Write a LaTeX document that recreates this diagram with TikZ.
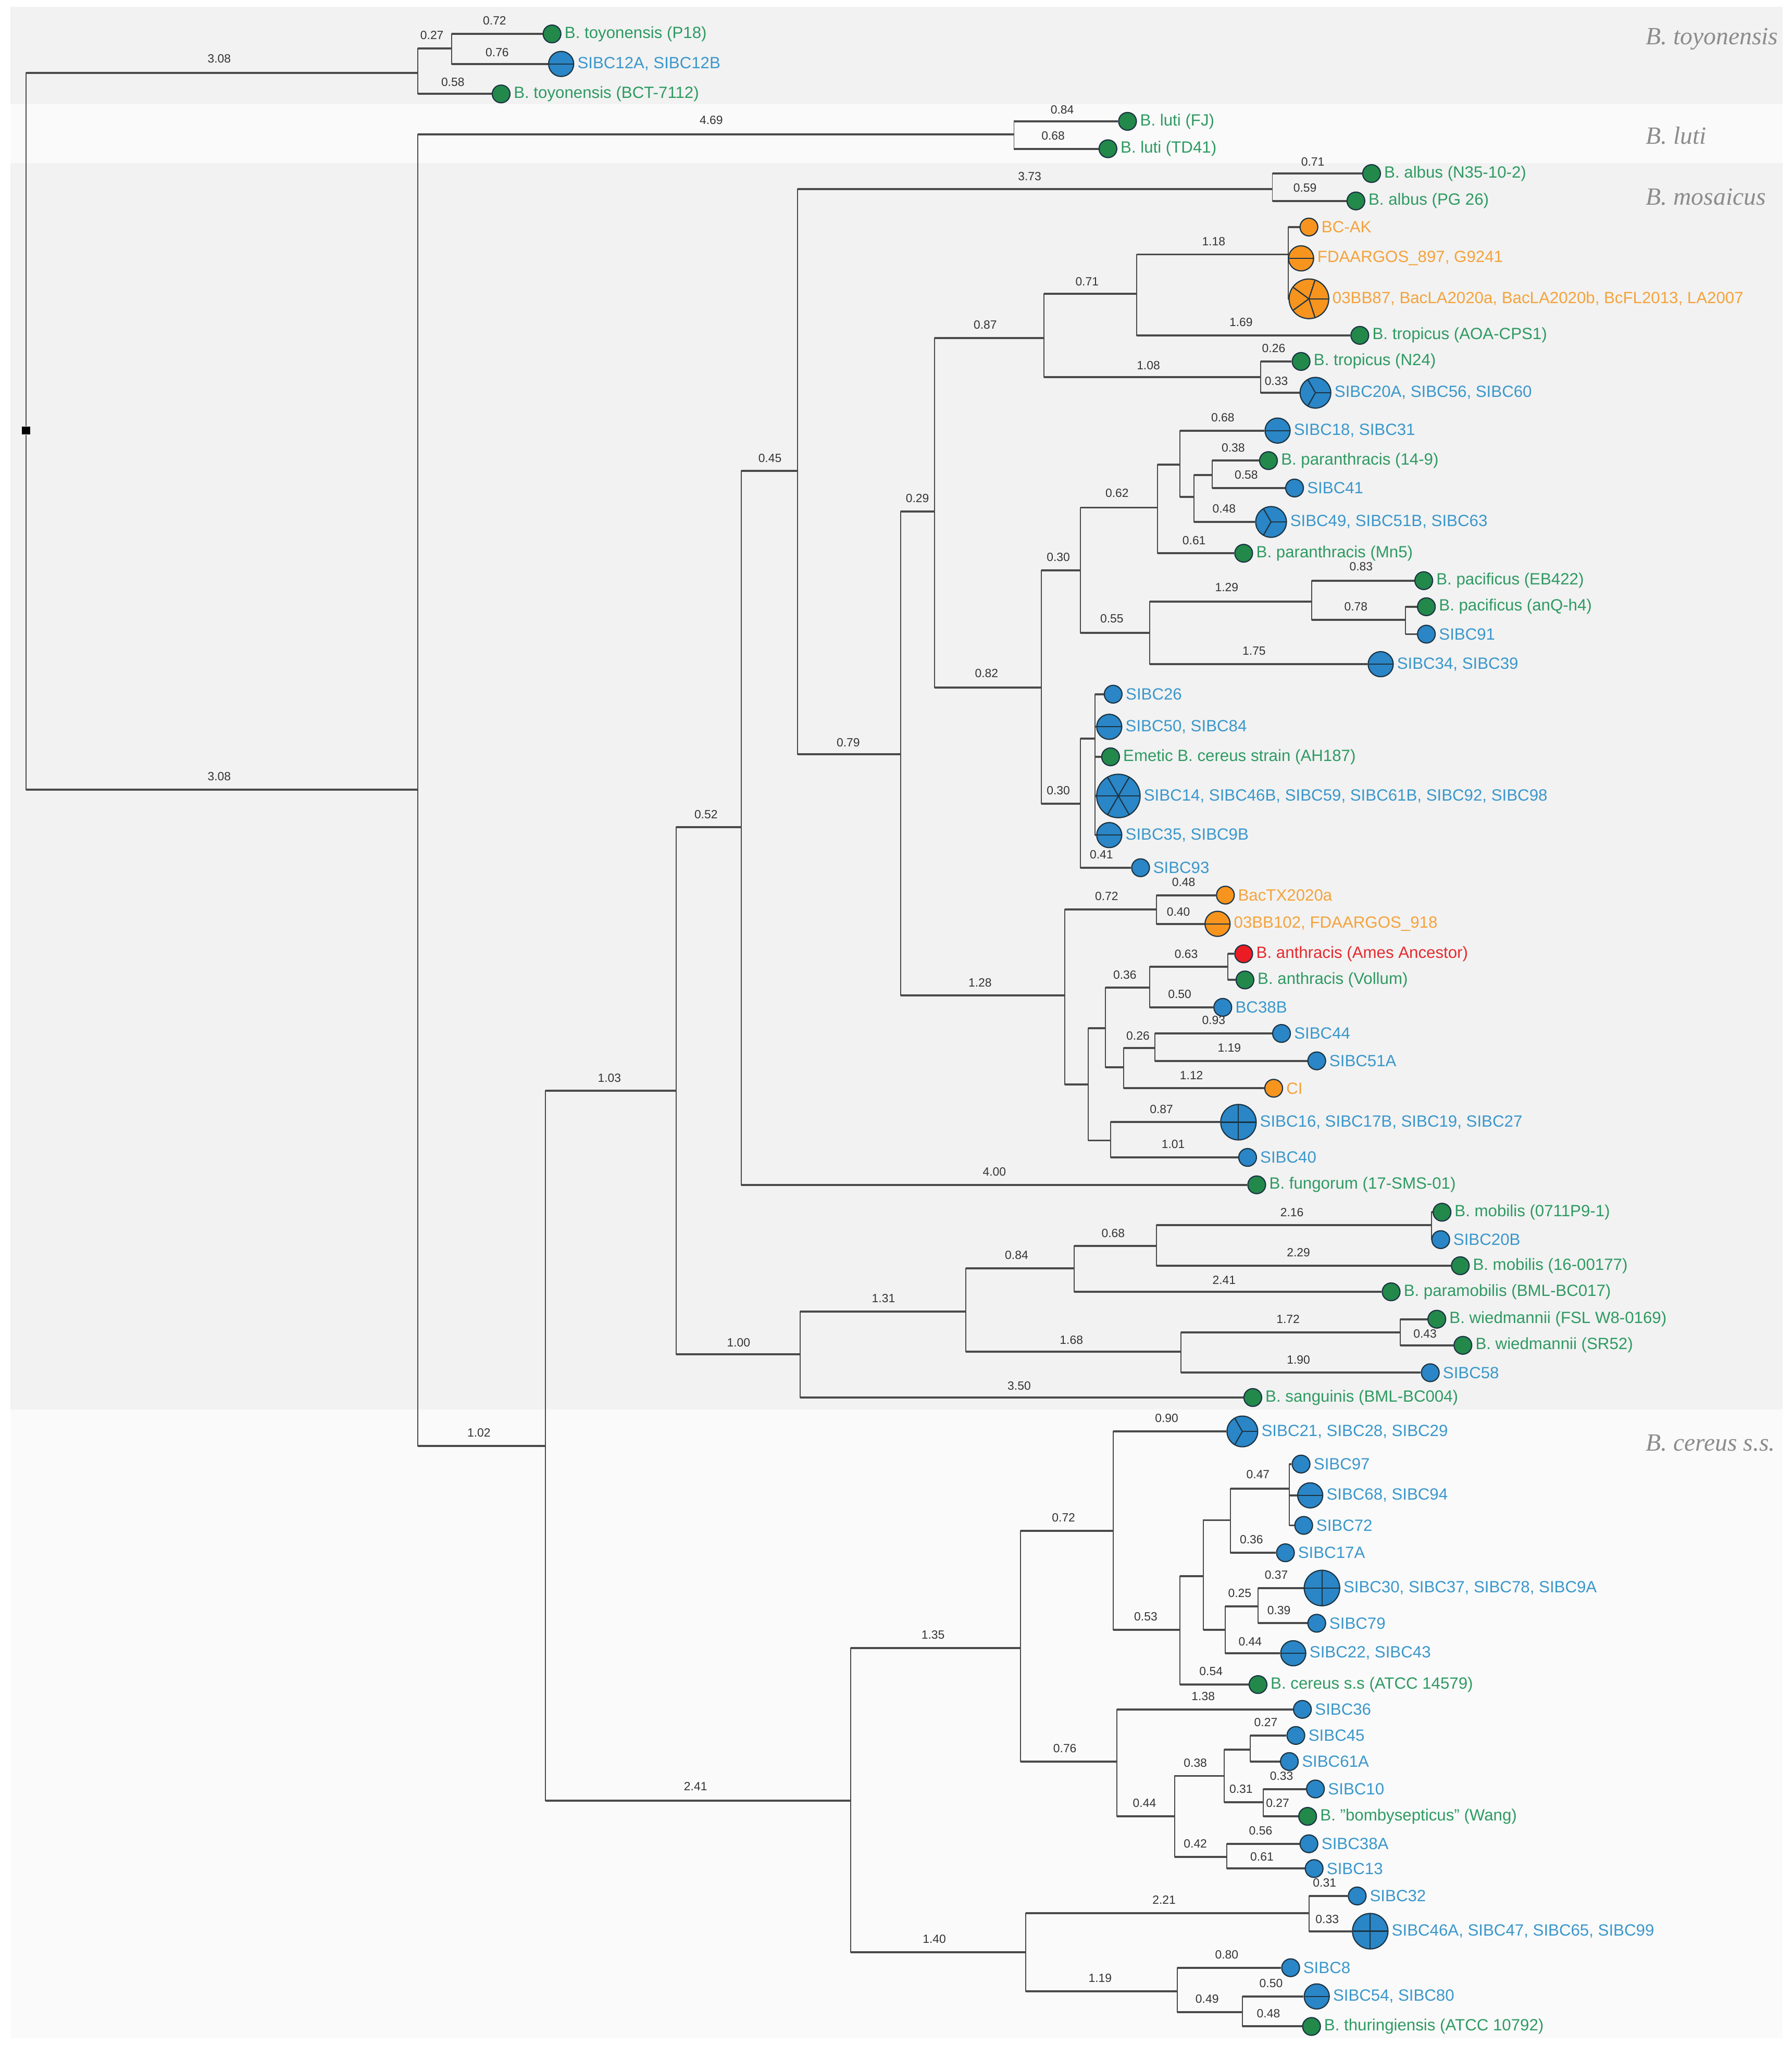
\documentclass[tikz,border=0pt]{standalone}
\usepackage{fontspec}
\setmainfont{Liberation Sans}
\newfontfamily\cladefont{Liberation Serif}
\usetikzlibrary{calc}

\definecolor{gdot}{HTML}{22894A}
\definecolor{gtxt}{HTML}{2E9A62}
\definecolor{bdot}{HTML}{2A86C6}
\definecolor{btxt}{HTML}{3A97CB}
\definecolor{odot}{HTML}{F7941D}
\definecolor{otxt}{HTML}{F4A33C}
\definecolor{rdot}{HTML}{EC1C24}
\definecolor{rtxt}{HTML}{E52A2F}
\definecolor{branchgray}{HTML}{4A4A4A}
\definecolor{dotline}{HTML}{1C3444}
\definecolor{bandgray}{HTML}{F2F2F2}
\definecolor{bandlight}{HTML}{FAFAFA}
\definecolor{cladegray}{HTML}{8C8C8C}

\pgfdeclarelayer{bands}
\pgfdeclarelayer{tree}
\pgfsetlayers{bands,tree,main}

\tikzset{
  vline/.style={draw=branchgray, line width=0.45pt},
  hline/.style={draw=branchgray, line width=0.9pt},
  blab/.style={font=\fontsize{5.2}{6}\selectfont, text=black!80, inner sep=0pt},
  tipdot/.style={circle, draw=dotline, line width=0.5pt, inner sep=0pt},
  tipsep/.style={draw=dotline, line width=0.5pt},
  tiptxt/.style={anchor=west, inner sep=1.2pt, font=\fontsize{7.1}{8.5}\selectfont},
  clade/.style={anchor=west, inner sep=0pt, text=cladegray, font=\cladefont\itshape\fontsize{10.8}{12}\selectfont},
  rootmark/.style={rectangle, fill=black, inner sep=0pt, minimum size=3.5pt}
}

% leaf: name, x, y, members, colour, text
\newcommand{\tip}[6]{%
  \pgfmathsetlengthmacro{\tipd}{0.272cm*sqrt(#4)}%
  \pgfmathsetlengthmacro{\tiprad}{0.136cm*sqrt(#4)}%
  \node[tipdot, fill=#5dot, minimum size=\tipd] (#1) at (#2,#3) {};
  \ifnum#4>1
    \foreach \k in {1,...,#4}
      \draw[tipsep] (#1.center) -- ++({360*(\k-1)/#4}:\tiprad);
  \fi
  \node[tiptxt, text=#5txt] (#1txt) at (#1.east) {#6};}

\newcommand{\stub}[2]{%
  \begin{pgfonlayer}{tree}
    \draw[vline] (#1) |- (#2);
    \draw[hline] (#1 |- #2) -- (#2);
  \end{pgfonlayer}}

\newcommand{\br}[5]{%
  \stub{#1}{#2}%
  \node[blab] (l#2) at (#4,#5) {#3};}

\begin{document}
\begin{tikzpicture}[x=0.02cm, y=-0.02cm]
\useasboundingbox (0,0) rectangle (1373,1568);

\begin{pgfonlayer}{bands}
\fill[white] (0,0) rectangle (1373,1568);
\fill[bandgray] (8,5) rectangle (1366,80);
\fill[bandlight] (8,80) rectangle (1366,125);
\fill[bandgray] (8,125) rectangle (1366,1080);
\fill[bandlight] (8,1080) rectangle (1366,1562);
\end{pgfonlayer}

\node[clade] (ctoy) at (1261,30) {B. toyonensis};
\node[clade] (cluti) at (1261,104) {B. luti};
\node[clade] (cmos) at (1261,151) {B. mosaicus};
\node[clade] (ccer) at (1261,1106) {B. cereus s.s.};

\node[rootmark] (root) at (20,330) {};

% B. toyonensis
\coordinate (toy) at (320,56);
\coordinate (toyA) at (346,37);
\tip{p18}{423}{26}{1}{g}{B. toyonensis (P18)}
\tip{s12}{430}{49}{2}{b}{SIBC12A, SIBC12B}
\tip{bct}{384}{72}{1}{g}{B. toyonensis (BCT-7112)}
\br{root}{toy}{3.08}{168}{45}
\br{toy}{toyA}{0.27}{331}{27}
\br{toyA}{p18}{0.72}{379}{16}
\br{toyA}{s12}{0.76}{381}{40}
\br{toy}{bct}{0.58}{347}{63}

% B. luti
\coordinate (mid) at (320,605);
\coordinate (luti) at (777,103);
\br{root}{mid}{3.08}{168}{595}
\tip{fj}{864}{93}{1}{g}{B. luti (FJ)}
\tip{td}{849}{114}{1}{g}{B. luti (TD41)}
\br{mid}{luti}{4.69}{545}{92}
\br{luti}{fj}{0.84}{814}{84}
\br{luti}{td}{0.68}{807}{104}

\coordinate (core) at (418,1108);
\br{mid}{core}{1.02}{367}{1098}
\coordinate (mos) at (518,836);
\br{core}{mos}{1.03}{467}{826}
\coordinate (cer) at (652,1380);
\br{core}{cer}{2.41}{533}{1369}

% B. mosaicus
\coordinate (mA) at (568,634); \br{mos}{mA}{0.52}{541}{624}
\coordinate (mB) at (611,361); \br{mA}{mB}{0.45}{590}{351}
\coordinate (alb) at (975,145); \br{mB}{alb}{3.73}{789}{135}
\tip{albn}{1051}{133}{1}{g}{B. albus (N35-10-2)}
\tip{albp}{1039}{154}{1}{g}{B. albus (PG 26)}
\br{alb}{albn}{0.71}{1006}{124}
\br{alb}{albp}{0.59}{1000}{144}

\coordinate (mC) at (690,578); \br{mB}{mC}{0.79}{650}{569}
\coordinate (mD) at (716,392); \br{mC}{mD}{0.29}{703}{382}
\coordinate (mE) at (800,259); \br{mD}{mE}{0.87}{755}{249}
\coordinate (mF) at (871,225); \br{mE}{mF}{0.71}{833}{216}
\coordinate (mG) at (987,195); \br{mF}{mG}{1.18}{930}{185}
\tip{bcak}{1003}{174}{1}{o}{BC-AK}
\tip{fda}{997}{198}{2}{o}{FDAARGOS\_897, G9241}
\tip{bb87}{1003}{229}{5}{o}{03BB87, BacLA2020a, BacLA2020b, BcFL2013, LA2007}
\stub{mG}{bcak} \stub{mG}{fda} \stub{mG}{bb87}
\tip{aoa}{1042}{257}{1}{g}{B. tropicus (AOA-CPS1)}
\br{mF}{aoa}{1.69}{951}{247}
\coordinate (mH) at (966,289); \br{mE}{mH}{1.08}{880}{280}
\tip{n24}{997}{277}{1}{g}{B. tropicus (N24)}
\tip{s20a}{1008}{301}{3}{b}{SIBC20A, SIBC56, SIBC60}
\br{mH}{n24}{0.26}{976}{267}
\br{mH}{s20a}{0.33}{978}{292}

\coordinate (mI) at (798,527); \br{mD}{mI}{0.82}{756}{516}
\coordinate (mJ) at (828,437); \br{mI}{mJ}{0.30}{811}{427}
\coordinate (mK) at (887,389); \br{mJ}{mK}{0.62}{856}{378}
\coordinate (mL) at (904,356); \stub{mK}{mL}
\tip{s18}{979}{330}{2}{b}{SIBC18, SIBC31}
\br{mL}{s18}{0.68}{937}{320}
\coordinate (mM) at (915,381); \stub{mL}{mM}
\coordinate (mN) at (929,364); \stub{mM}{mN}
\tip{p149}{972}{353}{1}{g}{B. paranthracis (14-9)}
\tip{s41}{992}{374}{1}{b}{SIBC41}
\tip{s49}{974}{400}{3}{b}{SIBC49, SIBC51B, SIBC63}
\tip{mn5}{953}{424}{1}{g}{B. paranthracis (Mn5)}
\br{mN}{p149}{0.38}{945}{343}
\br{mN}{s41}{0.58}{955}{364}
\br{mM}{s49}{0.48}{938}{390}
\br{mK}{mn5}{0.61}{915}{414}

\coordinate (mO) at (881,485); \br{mJ}{mO}{0.55}{852}{474}
\coordinate (mP) at (1005,461); \br{mO}{mP}{1.29}{940}{450}
\tip{eb}{1091}{445}{1}{g}{B. pacificus (EB422)}
\br{mP}{eb}{0.83}{1043}{434}
\coordinate (mQ) at (1077,475); \br{mP}{mQ}{0.78}{1039}{465}
\tip{anq}{1093}{465}{1}{g}{B. pacificus (anQ-h4)}
\tip{s91}{1093}{486}{1}{b}{SIBC91}
\stub{mQ}{anq} \stub{mQ}{s91}
\tip{s34}{1058}{509}{2}{b}{SIBC34, SIBC39}
\br{mO}{s34}{1.75}{961}{499}

\coordinate (mR) at (828,616); \br{mI}{mR}{0.30}{811}{606}
\coordinate (mS) at (839,566); \stub{mR}{mS}
\tip{s26}{853}{532}{1}{b}{SIBC26}
\tip{s50}{850}{557}{2}{b}{SIBC50, SIBC84}
\tip{eme}{851}{580}{1}{g}{Emetic B. cereus strain (AH187)}
\tip{s14}{857}{610}{6}{b}{SIBC14, SIBC46B, SIBC59, SIBC61B, SIBC92, SIBC98}
\tip{s35}{850}{640}{2}{b}{SIBC35, SIBC9B}
\foreach \t in {s26,s50,eme,s14,s35} {\stub{mS}{\t}}
\tip{s93}{874}{665}{1}{b}{SIBC93}
\br{mR}{s93}{0.41}{844}{655}

\coordinate (mT) at (816,763); \br{mC}{mT}{1.28}{751}{753}
\coordinate (mU) at (886,697); \br{mT}{mU}{0.72}{848}{687}
\tip{btx}{939}{686}{1}{o}{BacTX2020a}
\tip{b102}{933}{708}{2}{o}{03BB102, FDAARGOS\_918}
\br{mU}{btx}{0.48}{907}{676}
\br{mU}{b102}{0.40}{903}{699}
\coordinate (mV) at (834,831); \stub{mT}{mV}
\coordinate (mW) at (847,788); \stub{mV}{mW}
\coordinate (mX) at (881,757); \br{mW}{mX}{0.36}{862}{747}
\coordinate (mY) at (941,741); \br{mX}{mY}{0.63}{909}{731}
\tip{ames}{953}{731}{1}{r}{B. anthracis (Ames Ancestor)}
\tip{vol}{954}{751}{1}{g}{B. anthracis (Vollum)}
\stub{mY}{ames} \stub{mY}{vol}
\tip{bc38}{937}{772}{1}{b}{BC38B}
\br{mX}{bc38}{0.50}{904}{762}
\coordinate (mZ) at (861,818); \stub{mW}{mZ}
\coordinate (nA) at (885,803); \br{mZ}{nA}{0.26}{872}{794}
\tip{s44}{982}{792}{1}{b}{SIBC44}
\tip{s51a}{1009}{813}{1}{b}{SIBC51A}
\tip{ci}{976}{834}{1}{o}{CI}
\br{nA}{s44}{0.93}{930}{782}
\br{nA}{s51a}{1.19}{942}{803}
\br{mZ}{ci}{1.12}{913}{824}
\coordinate (nB) at (851,874); \stub{mV}{nB}
\tip{s16}{949}{860}{4}{b}{SIBC16, SIBC17B, SIBC19, SIBC27}
\tip{s40}{956}{887}{1}{b}{SIBC40}
\br{nB}{s16}{0.87}{890}{850}
\br{nB}{s40}{1.01}{899}{877}
\tip{fung}{963}{908}{1}{g}{B. fungorum (17-SMS-01)}
\br{mA}{fung}{4.00}{762}{898}

\coordinate (mob) at (613,1038); \br{mos}{mob}{1.00}{566}{1029}
\coordinate (mobA) at (740,1005); \br{mob}{mobA}{1.31}{677}{995}
\coordinate (mobB) at (823,972); \br{mobA}{mobB}{0.84}{779}{962}
\coordinate (mobC) at (886,955); \br{mobB}{mobC}{0.68}{853}{945}
\coordinate (mobD) at (1097,939); \br{mobC}{mobD}{2.16}{990}{929}
\tip{mob1}{1105}{929}{1}{g}{B. mobilis (0711P9-1)}
\tip{s20b}{1104}{950}{1}{b}{SIBC20B}
\stub{mobD}{mob1} \stub{mobD}{s20b}
\tip{mob2}{1119}{970}{1}{g}{B. mobilis (16-00177)}
\tip{pmob}{1066}{990}{1}{g}{B. paramobilis (BML-BC017)}
\br{mobC}{mob2}{2.29}{995}{960}
\br{mobB}{pmob}{2.41}{938}{981}
\coordinate (wie) at (905,1036); \br{mobA}{wie}{1.68}{821}{1027}
\coordinate (wieA) at (1073,1021); \br{wie}{wieA}{1.72}{987}{1011}
\tip{wfsl}{1101}{1011}{1}{g}{B. wiedmannii (FSL W8-0169)}
\tip{wsr}{1121}{1031}{1}{g}{B. wiedmannii (SR52)}
\tip{s58}{1096}{1052}{1}{b}{SIBC58}
\stub{wieA}{wfsl}
\br{wieA}{wsr}{0.43}{1092}{1022}
\br{wie}{s58}{1.90}{995}{1042}
\tip{sang}{960}{1071}{1}{g}{B. sanguinis (BML-BC004)}
\br{mob}{sang}{3.50}{781}{1062}

% B. cereus s.s.
\coordinate (cA) at (782,1263); \br{cer}{cA}{1.35}{715}{1253}
\coordinate (cB) at (853,1173); \br{cA}{cB}{0.72}{815}{1163}
\tip{s21}{952}{1097}{3}{b}{SIBC21, SIBC28, SIBC29}
\br{cB}{s21}{0.90}{894}{1087}
\coordinate (cC) at (904,1249); \br{cB}{cC}{0.53}{878}{1239}
\coordinate (cD) at (922,1208); \stub{cC}{cD}
\coordinate (cE) at (943,1165); \stub{cD}{cE}
\coordinate (cF) at (988,1141); \br{cE}{cF}{0.47}{964}{1130}
\tip{s97}{997}{1122}{1}{b}{SIBC97}
\tip{s68}{1004}{1146}{2}{b}{SIBC68, SIBC94}
\tip{s72}{999}{1169}{1}{b}{SIBC72}
\foreach \t in {s97,s68,s72} {\stub{cF}{\t}}
\tip{s17a}{985}{1190}{1}{b}{SIBC17A}
\br{cE}{s17a}{0.36}{959}{1180}
\coordinate (cG) at (939,1249); \stub{cD}{cG}
\coordinate (cH) at (964,1231); \br{cG}{cH}{0.25}{950}{1221}
\tip{s30}{1013}{1217}{4}{b}{SIBC30, SIBC37, SIBC78, SIBC9A}
\tip{s79}{1009}{1244}{1}{b}{SIBC79}
\tip{s22}{991}{1267}{2}{b}{SIBC22, SIBC43}
\br{cH}{s30}{0.37}{978}{1207}
\br{cH}{s79}{0.39}{980}{1234}
\br{cG}{s22}{0.44}{958}{1258}
\tip{atcc}{964}{1291}{1}{g}{B. cereus s.s (ATCC 14579)}
\br{cC}{atcc}{0.54}{928}{1281}

\coordinate (cI) at (856,1350); \br{cA}{cI}{0.76}{816}{1340}
\tip{s36}{998}{1310}{1}{b}{SIBC36}
\br{cI}{s36}{1.38}{922}{1300}
\coordinate (cJ) at (900,1392); \br{cI}{cJ}{0.44}{877}{1382}
\coordinate (cK) at (938,1361); \br{cJ}{cK}{0.38}{916}{1351}
\coordinate (cL) at (958,1341); \stub{cK}{cL}
\tip{s45}{993}{1330}{1}{b}{SIBC45}
\tip{s61a}{988}{1350}{1}{b}{SIBC61A}
\br{cL}{s45}{0.27}{970}{1320}
\br{cL}{s61a}{0.33}{982}{1361}
\coordinate (cM) at (968,1381); \br{cK}{cM}{0.31}{951}{1371}
\tip{s10}{1008}{1371}{1}{b}{SIBC10}
\tip{bomb}{1002}{1392}{1}{g}{B. "bombysepticus" (Wang)}
\stub{cM}{s10}
\br{cM}{bomb}{0.27}{979}{1382}
\coordinate (cN) at (940,1423); \br{cJ}{cN}{0.42}{916}{1413}
\tip{s38a}{1003}{1413}{1}{b}{SIBC38A}
\tip{s13}{1007}{1432}{1}{b}{SIBC13}
\br{cN}{s38a}{0.56}{966}{1403}
\br{cN}{s13}{0.61}{967}{1423}

\coordinate (cO) at (786,1496); \br{cer}{cO}{1.40}{716}{1486}
\coordinate (cP) at (1003,1466); \br{cO}{cP}{2.21}{892}{1456}
\tip{s32}{1040}{1453}{1}{b}{SIBC32}
\tip{s46a}{1050}{1480}{4}{b}{SIBC46A, SIBC47, SIBC65, SIBC99}
\br{cP}{s32}{0.31}{1015}{1443}
\br{cP}{s46a}{0.33}{1017}{1471}
\coordinate (cQ) at (902,1526); \br{cO}{cQ}{1.19}{843}{1516}
\tip{s8}{989}{1508}{1}{b}{SIBC8}
\br{cQ}{s8}{0.80}{940}{1498}
\coordinate (cR) at (952,1542); \br{cQ}{cR}{0.49}{925}{1532}
\tip{s54}{1009}{1530}{2}{b}{SIBC54, SIBC80}
\tip{thur}{1005}{1553}{1}{g}{B. thuringiensis (ATCC 10792)}
\br{cR}{s54}{0.50}{974}{1520}
\br{cR}{thur}{0.48}{972}{1543}
\end{tikzpicture}
\end{document}
